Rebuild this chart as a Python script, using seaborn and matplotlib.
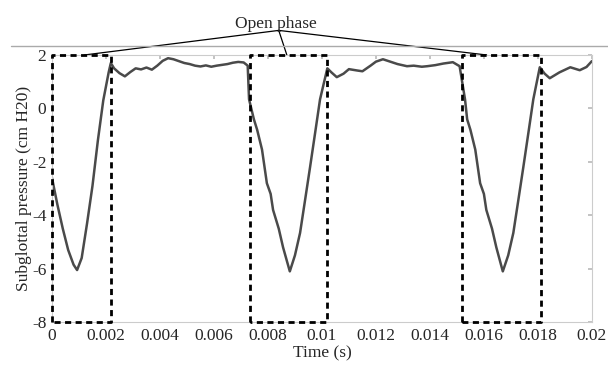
import numpy as np
import pandas as pd
import matplotlib
matplotlib.use("Agg")
import matplotlib.pyplot as plt
from matplotlib.lines import Line2D
import seaborn as sns

# Pressure trace (time in s, pressure in cm H20)
tempo = [0.0, 0.0002, 0.0004, 0.0006, 0.0008, 0.00093, 0.0011, 0.0013, 0.0015, 0.0017,
         0.0019, 0.0021, 0.00218, 0.0023, 0.0025, 0.0027, 0.0029, 0.0031, 0.0033, 0.0035,
         0.0037, 0.0039, 0.0041, 0.0043, 0.0045, 0.0047, 0.0049, 0.0051, 0.0053, 0.0055,
         0.0057, 0.0059, 0.0061, 0.0063, 0.0065, 0.0067, 0.0069, 0.0071, 0.00725, 0.0073,
         0.00748, 0.0076, 0.00778, 0.00796, 0.0081, 0.00819, 0.0084, 0.00856, 0.00881, 0.009,
         0.00919, 0.00938, 0.00956, 0.00975, 0.00993, 0.0102, 0.01035, 0.01055, 0.0108, 0.011,
         0.0113, 0.0115, 0.0118, 0.0120, 0.01226, 0.0125, 0.0128, 0.01315, 0.0134, 0.0137,
         0.0139, 0.0142, 0.0145, 0.01485, 0.0151, 0.0153, 0.01538, 0.0155, 0.01568, 0.01586,
         0.016, 0.01609, 0.0163, 0.01646, 0.0167, 0.0169, 0.01709, 0.01728, 0.01746, 0.01765,
         0.01783, 0.01807, 0.01825, 0.01844, 0.0188, 0.0192, 0.01955, 0.0198, 0.02]
pressao = [-2.6, -3.6, -4.5, -5.3, -5.85, -6.05, -5.6, -4.3, -2.9, -1.2,
           0.3, 1.35, 1.7, 1.5, 1.32, 1.2, 1.36, 1.5, 1.46, 1.53,
           1.45, 1.6, 1.78, 1.88, 1.84, 1.77, 1.7, 1.66, 1.6, 1.57,
           1.61, 1.56, 1.6, 1.63, 1.66, 1.71, 1.74, 1.72, 1.6, 0.34,
           -0.41, -0.8, -1.54, -2.8, -3.2, -3.8, -4.5, -5.2, -6.1, -5.5,
           -4.66, -3.4, -2.2, -0.9, 0.34, 1.5, 1.35, 1.17, 1.3, 1.47,
           1.42, 1.39, 1.6, 1.75, 1.84, 1.76, 1.66, 1.58, 1.6, 1.56,
           1.58, 1.62, 1.68, 1.73, 1.58, 0.34, -0.41, -0.8, -1.54, -2.8,
           -3.2, -3.8, -4.5, -5.2, -6.1, -5.5, -4.66, -3.4, -2.2, -0.9,
           0.34, 1.54, 1.3, 1.13, 1.35, 1.54, 1.43, 1.55, 1.77]

# Open phase windows
inicio_aberta = [0.0, 0.00733, 0.0152]
fim_aberta = [0.0022, 0.0102, 0.0181]
# where the annotation lines touch each box
alvo_seta = [0.0012, 0.0087, 0.0161]

xticks = [0, 0.002, 0.004, 0.006, 0.008, 0.01, 0.012, 0.014, 0.016, 0.018, 0.02]
xtick_labels = ["0", "0.002", "0.004", "0.006", "0.008", "0.01", "0.012", "0.014", "0.016", "0.018", "0.02"]
yticks = [2, 0, -2, -4, -6, -8]
ytick_labels = ["2", "0", "-2", "-4", "-6", "-8"]

df = pd.DataFrame({"t": tempo, "p": pressao})

sns.set_theme(style="white")
plt.rcParams["font.family"] = ["Liberation Serif", "DejaVu Serif"]

fig = plt.figure(figsize=(6.08, 3.69), dpi=100)
ax = fig.add_axes([0.0855, 0.127, 0.888, 0.724])

sns.lineplot(data=df, x="t", y="p", ax=ax, color="#4a4a4a", lw=1.8)

# dashed boxes
for a, b in zip(inicio_aberta, fim_aberta):
    ax.plot([a, a, b, b, a], [-8, 2, 2, -8, -8], color="black", lw=2.0,
            dashes=(2.2, 1.6), clip_on=False, zorder=5)

# annotation
ax.text(0.0083, 3.17, "Open phase", ha="center", va="center", fontsize=12.5)
for xa in alvo_seta:
    ax.plot([0.0084, xa], [2.92, 2.0], color="black", lw=0.9, clip_on=False)

ax.set_xlim(0, 0.02)
ax.set_ylim(-8, 2)
ax.set_xticks(xticks)
ax.set_xticklabels(xtick_labels)
ax.set_yticks(yticks)
ax.set_yticklabels(ytick_labels)
ax.tick_params(axis="both", direction="in", length=3, color="#bbbbbb",
               labelsize=12.5, top=True, right=True, pad=4)
for s in ax.spines.values():
    s.set_color("#cccccc")
    s.set_linewidth(0.8)
ax.set_xlabel("Time (s)", fontsize=12.5, labelpad=1)
ax.set_ylabel("Subglottal pressure (cm H20)", fontsize=12.5, labelpad=0)

# thin gray rule across the top of the figure
fig.add_artist(Line2D([0.018, 1.0], [0.875, 0.875], color="#aaaaaa", lw=1.0))

fig.savefig("out.png", dpi=100)
